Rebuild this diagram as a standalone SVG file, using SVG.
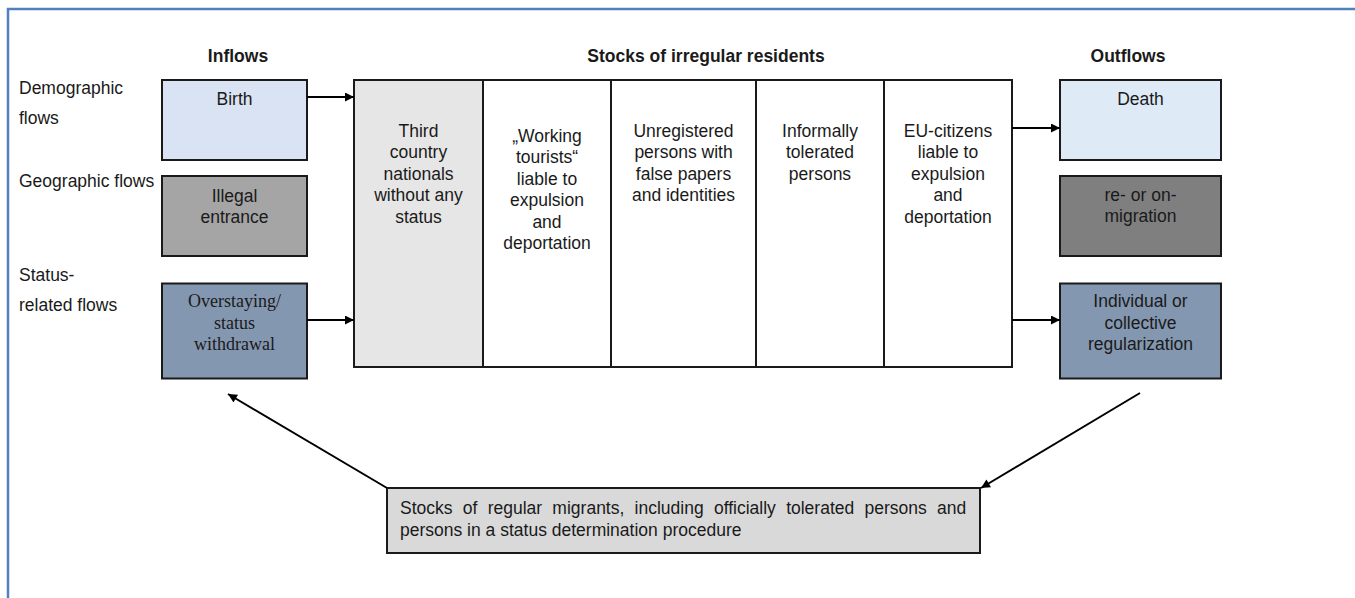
<svg xmlns="http://www.w3.org/2000/svg" width="1355" height="598" viewBox="0 0 1355 598">
  <defs>
    <marker id="arrow" viewBox="0 0 10 10" refX="10" refY="5" markerWidth="10" markerHeight="9" markerUnits="userSpaceOnUse" orient="auto">
      <path d="M0,0 L10,5 L0,10 z" fill="#000"/>
    </marker>
    <style>
      text { font-family: "Liberation Sans", Arial, sans-serif; font-size: 17.5px; fill: #1a1a1a; }
      .head { font-weight: bold; text-anchor: middle; }
      .c { text-anchor: middle; }
      .serif { font-family: "Liberation Serif", "Times New Roman", serif; font-size: 18px; }
      .box { stroke: #1a1a1a; stroke-width: 2; }
      .conn { stroke: #000; stroke-width: 2; fill: none; marker-end: url(#arrow); }
    </style>
  </defs>

  <rect width="1355" height="598" fill="#fff"/>

  <!-- page frame -->
  <path d="M8,598 V9 H1355" fill="none" stroke="#4f81bd" stroke-width="2.5"/>

  <!-- column headings -->
  <text class="head" x="238" y="62">Inflows</text>
  <text class="head" x="706" y="62">Stocks of irregular residents</text>
  <text class="head" x="1128" y="62">Outflows</text>

  <!-- row labels -->
  <g id="row-labels">
    <text x="19" y="93.5">Demographic</text>
    <text x="19" y="124">flows</text>
    <text x="19" y="186.5">Geographic flows</text>
    <text x="19" y="280.5">Status-</text>
    <text x="19" y="310.5">related flows</text>
  </g>

  <!-- inflows -->
  <g id="birth">
    <rect class="box" x="162" y="80" width="145" height="80" fill="#dae3f3"/>
    <text class="c" x="234.5" y="105">Birth</text>
  </g>
  <g id="illegal-entrance">
    <rect class="box" x="162" y="176" width="145" height="80" fill="#a5a5a5"/>
    <text class="c" x="234.5" y="201.5">Illegal</text>
    <text class="c" x="234.5" y="223">entrance</text>
  </g>
  <g id="overstaying">
    <rect class="box" x="162" y="283.5" width="145" height="95" fill="#8497b0"/>
    <text class="c serif" x="234.5" y="307">Overstaying/</text>
    <text class="c serif" x="234.5" y="328.5">status</text>
    <text class="c serif" x="234.5" y="350">withdrawal</text>
  </g>

  <!-- stocks of irregular residents -->
  <g id="third-country">
    <rect class="box" x="354" y="80" width="129" height="287" fill="#e7e6e6"/>
    <text class="c" x="418.5" y="136.5">Third</text>
    <text class="c" x="418.5" y="158">country</text>
    <text class="c" x="418.5" y="179.5">nationals</text>
    <text class="c" x="418.5" y="201">without any</text>
    <text class="c" x="418.5" y="222.5">status</text>
  </g>
  <g id="working-tourists">
    <rect class="box" x="483" y="80" width="128" height="287" fill="#fff"/>
    <text class="c" x="547" y="141.5">„Working</text>
    <text class="c" x="547" y="163">tourists“</text>
    <text class="c" x="547" y="184.5">liable to</text>
    <text class="c" x="547" y="206">expulsion</text>
    <text class="c" x="547" y="227.5">and</text>
    <text class="c" x="547" y="249">deportation</text>
  </g>
  <g id="unregistered">
    <rect class="box" x="611" y="80" width="145" height="287" fill="#fff"/>
    <text class="c" x="683.5" y="136.5">Unregistered</text>
    <text class="c" x="683.5" y="158">persons with</text>
    <text class="c" x="683.5" y="179.5">false papers</text>
    <text class="c" x="683.5" y="201">and identities</text>
  </g>
  <g id="informally-tolerated">
    <rect class="box" x="756" y="80" width="128" height="287" fill="#fff"/>
    <text class="c" x="820" y="136.5">Informally</text>
    <text class="c" x="820" y="158">tolerated</text>
    <text class="c" x="820" y="179.5">persons</text>
  </g>
  <g id="eu-citizens">
    <rect class="box" x="884" y="80" width="128" height="287" fill="#fff"/>
    <text class="c" x="948" y="136.5">EU-citizens</text>
    <text class="c" x="948" y="158">liable to</text>
    <text class="c" x="948" y="179.5">expulsion</text>
    <text class="c" x="948" y="201">and</text>
    <text class="c" x="948" y="222.5">deportation</text>
  </g>

  <!-- outflows -->
  <g id="death">
    <rect class="box" x="1060" y="80" width="161" height="80" fill="#deebf7"/>
    <text class="c" x="1140.5" y="104.5">Death</text>
  </g>
  <g id="re-migration">
    <rect class="box" x="1060" y="176" width="161" height="80" fill="#7f7f7f"/>
    <text class="c" x="1140.5" y="200.5">re- or on-</text>
    <text class="c" x="1140.5" y="222">migration</text>
  </g>
  <g id="regularization">
    <rect class="box" x="1060" y="283.5" width="161" height="95" fill="#8497b0"/>
    <text class="c" x="1140.5" y="307">Individual or</text>
    <text class="c" x="1140.5" y="328.5">collective</text>
    <text class="c" x="1140.5" y="350">regularization</text>
  </g>

  <!-- regular migrants -->
  <g id="regular-migrants">
    <rect class="box" x="387" y="488" width="593" height="65" fill="#d9d9d9"/>
    <text x="400" y="514" word-spacing="5.4">Stocks of regular migrants, including officially tolerated persons and</text>
    <text x="400" y="536">persons in a status determination procedure</text>
  </g>

  <!-- connectors -->
  <g id="connectors">
    <line class="conn" x1="307" y1="97" x2="354" y2="97"/>
    <line class="conn" x1="307" y1="320" x2="354" y2="320"/>
    <line class="conn" x1="1012" y1="128" x2="1060" y2="128"/>
    <line class="conn" x1="1012" y1="320" x2="1060" y2="320"/>
    <line class="conn" x1="387" y1="488" x2="228" y2="394"/>
    <line class="conn" x1="1140" y1="393" x2="981" y2="488"/>
  </g>
</svg>
